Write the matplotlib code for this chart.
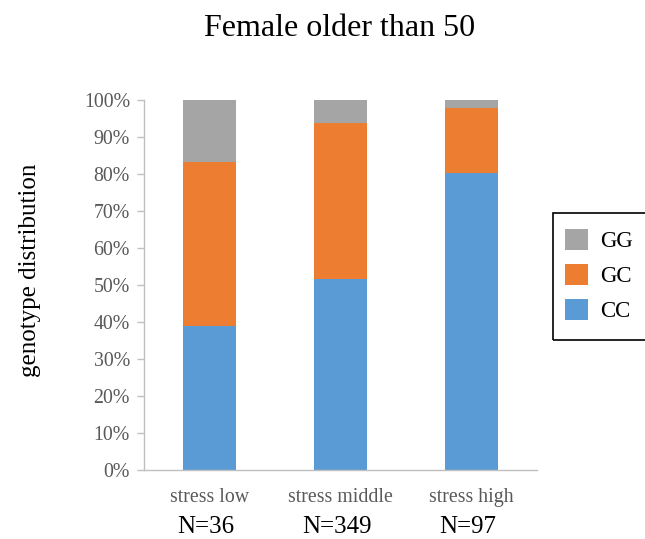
import numpy as np
import matplotlib.pyplot as plt
from matplotlib.ticker import PercentFormatter
from matplotlib.patches import Rectangle

plt.rcParams['font.family'] = ['Liberation Serif', 'DejaVu Serif']

groups = ["stress low", "stress middle", "stress high"]
n_total = [36, 349, 97]
# genotype counts per group
cc = np.array([14, 180, 78])
gc = np.array([16, 148, 17])
gg = np.array([6, 21, 2])

cc_pct = cc / np.array(n_total) * 100
gc_pct = gc / np.array(n_total) * 100
gg_pct = gg / np.array(n_total) * 100

c_cc = "#5B9BD5"
c_gc = "#ED7D31"
c_gg = "#A5A5A5"

W, H = 645, 539
fig = plt.figure(figsize=(W / 100, H / 100), dpi=100)
ax = fig.add_axes([0.223, 0.128, 0.61, 0.686])

x = np.arange(len(groups))
w = 0.4
b1 = ax.bar(x, cc_pct, w, color=c_cc, label="CC")
b2 = ax.bar(x, gc_pct, w, bottom=cc_pct, color=c_gc, label="GC")
b3 = ax.bar(x, gg_pct, w, bottom=cc_pct + gc_pct, color=c_gg, label="GG")

ax.set_xlim(-0.5, 2.5)
ax.set_ylim(0, 100)
ax.set_yticks(np.arange(0, 101, 10))
ax.yaxis.set_major_formatter(PercentFormatter(decimals=0))
ax.set_xticks(x)
ax.set_xticklabels(groups)

for s in ["top", "right"]:
    ax.spines[s].set_visible(False)
for s in ["left", "bottom"]:
    ax.spines[s].set_color("#BFBFBF")
    ax.spines[s].set_linewidth(1.0)
ax.tick_params(axis="y", colors="#BFBFBF", labelcolor="#595959", labelsize=14.3,
               length=5, width=1.0, pad=5)
ax.tick_params(axis="x", length=0, labelcolor="#595959", labelsize=14.3, pad=13)

# sample sizes below category labels
for xi, n in zip(x, n_total):
    ax.text(xi - 0.03, -0.155, f"N={n}", transform=ax.get_xaxis_transform(),
            ha="center", va="center", fontsize=18, color="black")

fig.text(30 / W, 1 - 270 / H, "genotype distribution", rotation=90,
         ha="center", va="center", fontsize=18)
fig.text(340 / W, 1 - 28 / H, "Female older than 50", ha="center", va="center",
         fontsize=23)

# legend box runs off the right edge
fig.patches.append(Rectangle((553 / W, 1 - 340 / H), 110 / W, 127 / H,
                             transform=fig.transFigure, fill=False,
                             edgecolor="black", linewidth=1.2))
leg = ax.legend(handles=[b3, b2, b1], loc="upper left",
                bbox_to_anchor=(565 / W, 1 - 229 / H),
                bbox_transform=fig.transFigure, fontsize=16.5, frameon=False,
                handlelength=1.0, handleheight=1.05, borderpad=0, labelspacing=0.5,
                handletextpad=0.55, borderaxespad=0)

fig.savefig("out.png", dpi=100)
